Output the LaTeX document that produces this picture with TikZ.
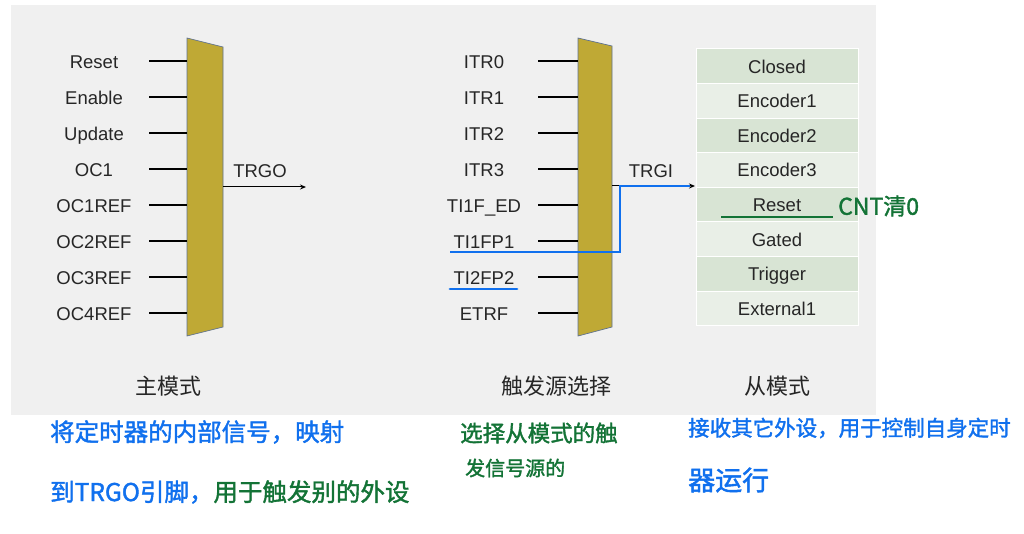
\documentclass[tikz,border=0pt]{standalone}
\usepackage{fontspec}
\setmainfont{Liberation Sans}
\newfontfamily\cjk{Noto Sans CJK SC}
\newfontfamily\cjkb{Noto Sans CJK SC}[FakeBold=1.6]
\usetikzlibrary{arrows.meta}
\definecolor{bgc}{HTML}{F0F0F0}
\definecolor{muxc}{HTML}{BFA935}
\definecolor{muxe}{HTML}{5F7290}
\definecolor{txt}{HTML}{262626}
\definecolor{rowd}{HTML}{D8E4D4}
\definecolor{rowl}{HTML}{E9EFE7}
\definecolor{hblue}{HTML}{1070EE}
\definecolor{hgreen}{HTML}{137336}
\begin{document}
\begin{tikzpicture}[x=1pt,y=-1pt,
  lbl/.style={text=txt,font=\fontsize{18.5}{20}\selectfont,inner sep=0pt,text height=13.5pt,text depth=0pt},
  cnlbl/.style={text=txt,font=\cjk\fontsize{22}{24}\selectfont,inner sep=0pt},
  mux/.style={fill=muxc,draw=muxe,line width=0.7pt},
  thk/.style={line width=2.4pt,black},
  thn/.style={line width=1.3pt,black},
  rowbox/.style={minimum width=162pt,minimum height=34.6pt,draw=white,line width=1pt,inner sep=0pt,text=txt,text height=13.5pt,text depth=0pt,font=\fontsize{18.5}{20}\selectfont},
  hand/.style={inner sep=0pt,anchor=west},
  arr/.style={line width=1pt,-{Stealth[length=6pt,width=5pt]}},
  bline/.style={draw=hblue,line width=2.8pt}]
\useasboundingbox (0,0) rectangle (1024,534);
\fill[white] (0,0) rectangle (1024,534);
\fill[bgc] (11,5) rectangle (876,415);

% left mux
\draw[mux] (187,38) -- (223,47) -- (223,327) -- (187,336) -- cycle;
\coordinate (mo1) at (223,187);
\foreach \t/\s [count=\i] in {Reset/thk,Enable/thk,Update/thn,OC1/thk,OC1REF/thk,OC2REF/thn,OC3REF/thk,OC4REF/thk}{
  \node[lbl] (L\i) at (94,{62+36*(\i-1)}) {\t};
  \coordinate (La\i) at (149,{61+36*(\i-1)});
  \coordinate (Lb\i) at (187,{61+36*(\i-1)});
  \draw[\s] (La\i) -- (Lb\i);
}
\coordinate (trgoend) at (306,187);
\draw[arr] (mo1) -- (trgoend);
\node[lbl] (trgo) at (260,171) {TRGO};
\node[cnlbl] (c1) at (168,386) {主模式};

% middle mux
\draw[mux] (578,38) -- (612,46) -- (612,327) -- (578,336) -- cycle;
\foreach \t/\s [count=\i] in {ITR0/thk,ITR1/thk,ITR2/thn,ITR3/thk,TI1F\_ED/thk,TI1FP1/thn,TI2FP2/thk,ETRF/thk}{
  \node[lbl] (M\i) at (484,{62+36*(\i-1)}) {\t};
  \coordinate (Ma\i) at (538,{61+36*(\i-1)});
  \coordinate (Mb\i) at (578,{61+36*(\i-1)});
  \draw[\s] (Ma\i) -- (Mb\i);
}
\node[lbl] (trgi) at (651,171) {TRGI};
\node[cnlbl] (c2) at (556,386) {触发源选择};

% slave mode table
\foreach \t/\c [count=\i] in {Closed/rowd,Encoder1/rowl,Encoder2/rowd,Encoder3/rowl,Reset/rowd,Gated/rowl,Trigger/rowd,External1/rowl}{
  \node[rowbox,fill=\c] (R\i) at (777,{66.3+34.6*(\i-1)}) {\t};
}
\node[cnlbl] (c3) at (777,386) {从模式};

\coordinate (mo2) at (612,186);
\coordinate (ti) at (695,186);
\draw[arr] (mo2) -- (ti);
% blue handwritten path
\coordinate (b1) at (450,252);
\coordinate (b2) at (620,186);
\coordinate (b3) at (690,186);
\draw[bline] (b1) -| (b2) -- (b3);
\coordinate (u1) at (450,289);
\coordinate (u2) at (517,289);
\draw[bline,line cap=round] (u1) -- (u2);

% green underline
\coordinate (g1) at (721,217);
\coordinate (g2) at (833,217);
\draw[hgreen,line width=2.8pt] (g1) -- (g2);
\node[hand,text=hgreen,font=\cjkb\fontsize{23}{24}\selectfont] (cnt) at (838,206) {CNT清0};

% annotations
\node[hand,text=hblue,font=\cjkb\fontsize{24.5}{28}\selectfont] (n1) at (50,432) {将定时器的内部信号，映射};
\node[hand,font=\cjkb\fontsize{24.5}{28}\selectfont] (n2) at (50,492) {\textcolor{hblue}{到TRGO引脚，}\textcolor{hgreen}{用于触发别的外设}};
\node[hand,text=hgreen,font=\cjkb\fontsize{22.5}{26}\selectfont] (n3) at (460,433) {选择从模式的触};
\node[hand,text=hgreen,font=\cjkb\fontsize{20}{24}\selectfont] (n4) at (465,468) {发信号源的};
\node[hand,text=hblue,font=\cjkb\fontsize{21.5}{26}\selectfont] (n5) at (688,428) {接收其它外设，用于控制自身定时};
\node[hand,text=hblue,font=\cjkb\fontsize{27}{30}\selectfont] (n6) at (688,480) {器运行};
\end{tikzpicture}
\end{document}
